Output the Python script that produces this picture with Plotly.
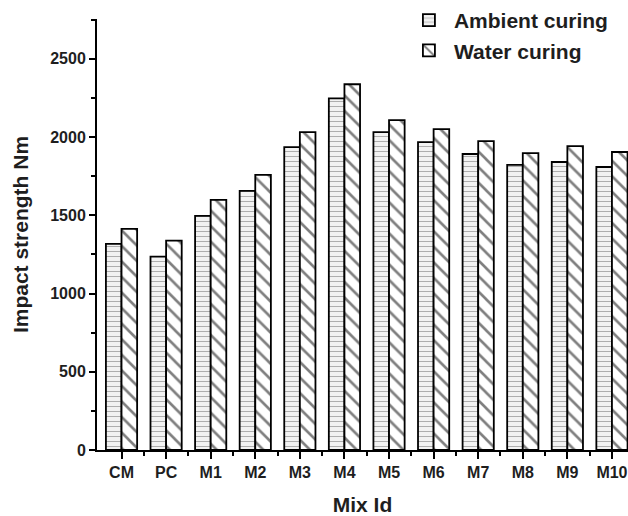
import plotly.graph_objects as go

categories = ["CM", "PC", "M1", "M2", "M3", "M4", "M5", "M6", "M7", "M8", "M9", "M10"]
ambient_curing = [1318, 1236, 1497, 1656, 1936, 2248, 2032, 1968, 1892, 1822, 1841, 1809]
water_curing = [1414, 1338, 1599, 1758, 2032, 2338, 2108, 2051, 1975, 1898, 1943, 1905]
y_ticks = [0, 500, 1000, 1500, 2000, 2500]

xpos = list(range(len(categories)))
FONT = "Liberation Sans, Arial, sans-serif"
TXT = "#1e1e1e"

fig = go.Figure()
fig.add_trace(go.Bar(
    x=xpos, y=ambient_curing, name="Ambient curing",
    marker=dict(color="white", line=dict(color="black", width=1.8),
                pattern=dict(shape="-", fgcolor="#6a6a6a", bgcolor="#f2f2f2",
                             size=5, solidity=0.2)),
))
fig.add_trace(go.Bar(
    x=xpos, y=water_curing, name="Water curing",
    marker=dict(color="white", line=dict(color="black", width=1.8),
                pattern=dict(shape="\\", fgcolor="black", bgcolor="white",
                             size=11, solidity=0.24)),
))

fig.update_layout(
    width=628, height=516,
    margin=dict(l=97, r=0, t=17, b=66),
    paper_bgcolor="white", plot_bgcolor="white",
    barmode="group", bargap=0.30, bargroupgap=0,
    font=dict(family=FONT, color=TXT, size=16),
    showlegend=True,
    legend=dict(x=0.578, y=1.045, xanchor="left", yanchor="top",
                font=dict(family=FONT, size=21, weight="bold", color=TXT),
                bgcolor="rgba(0,0,0,0)", tracegroupgap=0, itemwidth=40),
    xaxis=dict(
        range=[-0.55, 11.36], tickvals=xpos, ticktext=categories,
        automargin=False,
        showline=True, linecolor="black", linewidth=2,
        ticks="outside", ticklen=7, tickwidth=1.5, tickcolor="black",
        minor=dict(tickvals=[i + 0.5 for i in xpos], ticks="outside", ticklen=4, tickwidth=1.5, tickcolor="black"),
        tickfont=dict(family=FONT, size=16, weight="bold", color=TXT),
        title=dict(text="Mix Id", font=dict(family=FONT, size=21, weight="bold", color=TXT), standoff=18),
        showgrid=False, zeroline=False,
    ),
    yaxis=dict(
        range=[0, 2755], tickvals=y_ticks,
        automargin=False,
        showline=True, linecolor="black", linewidth=2,
        ticks="outside", ticklen=6, tickwidth=1.5, tickcolor="black",
        minor=dict(dtick=250, ticks="outside", ticklen=4, tickwidth=1.5, tickcolor="black"),
        tickfont=dict(family=FONT, size=16, weight="bold", color=TXT),
        title=dict(text="Impact strength Nm", font=dict(family=FONT, size=21, weight="bold", color=TXT), standoff=16),
        showgrid=False, zeroline=False,
    ),
)

# remove the default 8px page margin so the figure fills the window exactly
fig.write_html("out.html", config={"displayModeBar": False},
               post_script="document.body.style.margin='0';document.body.style.overflow='hidden';")
